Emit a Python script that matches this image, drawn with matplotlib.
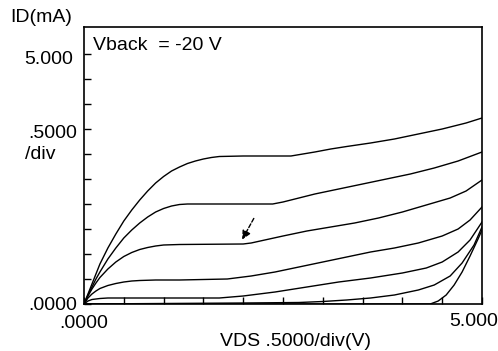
import numpy as np
import matplotlib
matplotlib.use('Agg')
import matplotlib.pyplot as plt

# ID-VDS family of curves, VDS in V, ID in mA
c1_x = [0, 0.05, 0.10, 0.15, 0.20, 0.30, 0.40, 0.50, 0.60, 0.70, 0.80, 0.90, 1.00, 1.10, 1.20, 1.30,
        1.40, 1.50, 1.60, 1.70, 2.0, 2.6, 2.75, 2.9, 3.1, 3.3, 3.6, 3.9, 4.2, 4.5, 4.8, 5.0]
c1_y = [0, 0.20, 0.40, 0.60, 0.80, 1.12, 1.40, 1.66, 1.88, 2.08, 2.26, 2.42, 2.55, 2.66, 2.74, 2.81,
        2.86, 2.90, 2.93, 2.95, 2.96, 2.96, 3.00, 3.04, 3.10, 3.15, 3.22, 3.30, 3.40, 3.50, 3.62, 3.72]

c2_x = [0, 0.05, 0.10, 0.15, 0.20, 0.30, 0.40, 0.50, 0.60, 0.70, 0.80, 0.90, 1.00, 1.10, 1.20, 1.30,
        2.0, 2.37, 2.5, 2.7, 2.9, 3.2, 3.5, 3.8, 4.1, 4.4, 4.7, 5.0]
c2_y = [0, 0.18, 0.34, 0.50, 0.64, 0.90, 1.12, 1.32, 1.48, 1.62, 1.74, 1.84, 1.91, 1.96, 1.99, 2.00,
        2.00, 2.00, 2.04, 2.12, 2.20, 2.30, 2.40, 2.50, 2.60, 2.72, 2.86, 3.04]

c3_x = [0, 0.05, 0.10, 0.15, 0.20, 0.30, 0.40, 0.50, 0.60, 0.70, 0.80, 0.90, 1.0, 1.2, 2.0, 2.1,
        2.3, 2.5, 2.8, 3.1, 3.4, 3.7, 4.0, 4.3, 4.6, 4.8, 5.0]
c3_y = [0, 0.16, 0.30, 0.42, 0.53, 0.70, 0.84, 0.95, 1.03, 1.09, 1.13, 1.16, 1.18, 1.19, 1.20, 1.22,
        1.29, 1.36, 1.46, 1.54, 1.62, 1.72, 1.84, 1.98, 2.12, 2.26, 2.48]

c4_x = [0, 0.05, 0.10, 0.15, 0.20, 0.30, 0.40, 0.50, 0.60, 0.70, 0.90, 1.2, 1.8, 2.1, 2.4, 2.7,
        3.0, 3.3, 3.6, 3.9, 4.2, 4.5, 4.7, 4.85, 5.0]
c4_y = [0, 0.12, 0.20, 0.26, 0.31, 0.37, 0.41, 0.44, 0.46, 0.47, 0.48, 0.48, 0.50, 0.56, 0.64, 0.74,
        0.84, 0.94, 1.04, 1.12, 1.22, 1.36, 1.50, 1.68, 1.94]

c5_x = [0, 0.05, 0.10, 0.20, 0.30, 1.7, 2.0, 2.4, 2.8, 3.2, 3.6, 4.0, 4.3, 4.5, 4.7, 4.85, 5.0]
c5_y = [0, 0.06, 0.09, 0.11, 0.12, 0.12, 0.16, 0.24, 0.34, 0.44, 0.52, 0.62, 0.72, 0.84, 1.04, 1.28, 1.64]

c6_x = [0, 1.0, 2.0, 2.7, 3.0, 3.3, 3.6, 3.9, 4.2, 4.4, 4.6, 4.75, 4.9, 5.0]
c6_y = [0, 0.01, 0.02, 0.03, 0.05, 0.08, 0.12, 0.18, 0.28, 0.38, 0.56, 0.82, 1.18, 1.54]

c7_x = [0, 4.35, 4.45, 4.55, 4.65, 4.75, 4.85, 4.95, 5.0]
c7_y = [0, 0, 0.06, 0.18, 0.38, 0.64, 0.96, 1.30, 1.48]

curves = [(c1_x, c1_y), (c2_x, c2_y), (c3_x, c3_y), (c4_x, c4_y),
          (c5_x, c5_y), (c6_x, c6_y), (c7_x, c7_y)]

arrow_tail = (2.15, 1.76)
arrow_tip = (1.97, 1.24)

plt.rcParams['font.family'] = ['Liberation Sans', 'DejaVu Sans']

W, H = 498, 351
fig = plt.figure(figsize=(W / 100, H / 100), dpi=100)
ax = fig.add_axes([84 / W, 1 - 304 / H, (482 - 84) / W, (304 - 27) / H])

for xs, ys in curves:
    ax.plot(xs, ys, color='black', linewidth=1.0)

ax.annotate('', xy=arrow_tip, xytext=arrow_tail,
            arrowprops=dict(arrowstyle='-|>', color='black', lw=1.0,
                            linestyle=(0, (3, 1.5)), mutation_scale=13))

ax.set_xlim(0, 5)
ax.set_ylim(0, 5.54)
ax.set_xticks(np.arange(0, 5.01, 0.5))
ax.set_yticks(np.arange(0, 5.01, 0.5))
ax.tick_params(direction='in', length=5, width=1, labelbottom=False, labelleft=False)
for sp in ax.spines.values():
    sp.set_linewidth(1.2)

ax.text(9 / 398, 1 - 18 / 277, 'Vback  = -20 V', transform=ax.transAxes,
        fontsize=14, va='center', ha='left')


def ftext(px, py, s, size=14, **kw):
    fig.text(px / W, 1 - py / H, s, fontsize=size, **kw)


ftext(10, 18, 'ID(mA)', ha='left', va='center')
ftext(73, 59, '5.000', ha='right', va='center')
ftext(77, 133, '.5000', ha='right', va='center')
ftext(25, 154, '/div', ha='left', va='center')
ftext(77, 305, '.0000', ha='right', va='center')
ftext(59, 324, '.0000', ha='left', va='center')
ftext(498, 321, '5.000', ha='right', va='center')
ftext(296, 342, 'VDS .5000/div(V)', ha='center', va='center')

fig.savefig('out.png', dpi=100)
